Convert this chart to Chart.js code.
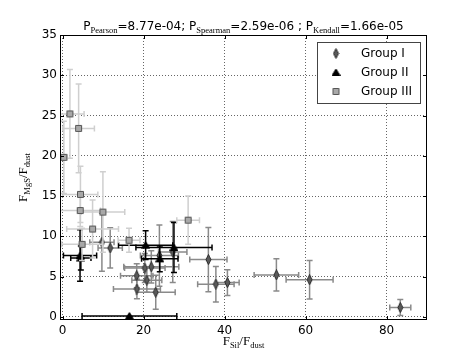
<!DOCTYPE html>
<html>
<head>
<meta charset="utf-8">
<script src="https://cdn.jsdelivr.net/npm/chart.js@4.4.0/dist/chart.umd.min.js"></script>
<style>
html, body { margin: 0; padding: 0; background: #fff; }
</style>
</head>
<body>
<canvas id="grafico" width="474" height="356"></canvas>
<script>
// valores
const grupoIx    = [9.7, 11.75, 18.3, 18.35, 20.3, 21.9, 20.8, 23.0, 23.9, 27.2, 36.0, 37.85, 40.7, 52.8, 61.0, 83.4];
const grupoIy    = [9.25, 8.55, 5.1, 3.45, 6.05, 6.2, 4.55, 3.05, 7.6, 8.05, 7.1, 4.05, 4.25, 5.2, 4.6, 1.15];
const grupoIxErr = [3.0, 3.0, 4.0, 5.8, 5.0, 6.8, 3.7, 4.8, 4.7, 3.5, 4.6, 4.5, 2.9, 5.5, 5.8, 2.6];
const grupoIyErr = [3.6, 2.5, 1.5, 1.2, 1.8, 2.0, 1.5, 2.1, 3.8, 3.8, 4.0, 2.2, 1.6, 2.0, 2.4, 1.0];

const grupoIIx    = [4.3, 4.5, 20.5, 27.5, 24.0, 16.5];
const grupoIIy    = [7.6, 7.3, 8.9, 8.6, 7.2, 0.1];
const grupoIIxErr = [4.1, 2.5, 6.7, 9.4, 4.5, 11.7];
const grupoIIyErr = [3.2, 1.5, 1.8, 3.1, 1.6, 0];

const grupoIIIx    = [0.3, 1.8, 3.95, 4.4, 4.35, 9.95, 7.4, 4.8, 16.4, 31.0];
const grupoIIIy    = [19.8, 25.2, 23.4, 15.2, 13.2, 13.0, 10.9, 9.0, 9.5, 12.0];
const grupoIIIxErr = [0.8, 3.5, 3.9, 4.3, 5.0, 5.4, 6.4, 5.0, 2.7, 2.8];
const grupoIIIyErr = [4.5, 5.5, 5.5, 3.5, 2.0, 5.0, 3.6, 2.0, 1.5, 3.0];

const legendas = ['Group I', 'Group II', 'Group III'];
const ticksX = [0, 20, 40, 60, 80];
const ticksY = [0, 5, 10, 15, 20, 25, 30, 35];

const SANS = 'DejaVu Sans';
const SERIF = 'Liberation Serif';

// marcadores desenhados num canvas pequeno
function marcador(tipo, fill, stroke) {
    const c = document.createElement('canvas');
    let w = 9, h = 9;
    if (tipo == 'diamante') { w = 7; h = 11; }
    c.width = w; c.height = h;
    const g = c.getContext('2d');
    g.beginPath();
    if (tipo == 'diamante') {
        g.moveTo(w / 2, 0.5); g.lineTo(w - 1, h / 2); g.lineTo(w / 2, h - 0.5); g.lineTo(1, h / 2);
    } else if (tipo == 'triangulo') {
        g.moveTo(w / 2, 1); g.lineTo(w - 0.5, h - 1.5); g.lineTo(0.5, h - 1.5);
    } else {
        g.rect(1.5, 1.5, w - 3, h - 3);
    }
    g.closePath();
    g.fillStyle = fill; g.fill();
    g.lineWidth = 1; g.strokeStyle = stroke; g.stroke();
    return c;
}

const imgDiamante = marcador('diamante', '#5a5a5a', '#2a2a2a');
const imgTriangulo = marcador('triangulo', '#000', '#000');
const imgQuadrado = marcador('quadrado', '#a8a8a8', '#555');

function pontos(xs, ys) {
    return xs.map((v, i) => ({ x: v, y: ys[i] }));
}

// texto com subscritos
function textoRico(ctx, partes, x, y, align) {
    let total = 0;
    partes.forEach(p => { ctx.font = p.f; p.w = ctx.measureText(p.t).width; total += p.w; });
    let cx = align == 'center' ? x - total / 2 : x;
    ctx.textBaseline = 'alphabetic';
    ctx.textAlign = 'left';
    partes.forEach(p => {
        ctx.font = p.f;
        ctx.fillText(p.t, cx, y + (p.dy || 0));
        cx += p.w;
    });
}

const sub = (t) => ({ t: t, f: '8.5px "' + SERIF + '"', dy: 3 });
const normal = (t) => ({ t: t, f: '12px "' + SANS + '"' });
const serif = (t) => ({ t: t, f: '13px "' + SERIF + '"' });

const tituloPartes = [normal('P'), sub('Pearson'), normal('=8.77e-04; P'), sub('Spearman'),
    normal('=2.59e-06 ; P'), sub('Kendall'), normal('=1.66e-05')];
const labelX = [serif('F'), sub('Sil'), serif('/F'), sub('dust')];
const labelY = [serif('F'), sub('MgS'), serif('/F'), sub('dust')];

const enfeites = {
    id: 'enfeites',
    beforeDraw(chart) {
        const ctx = chart.ctx;
        ctx.save();
        ctx.fillStyle = '#fff';
        ctx.fillRect(0, 0, chart.width, chart.height);
        ctx.restore();
    },
    beforeDatasetDraw(chart, args) {
        const ds = chart.data.datasets[args.index];
        const sx = chart.scales.x, sy = chart.scales.y;
        const ctx = chart.ctx;
        const cap = 3;
        ctx.save();
        ctx.beginPath();
        ctx.rect(chart.chartArea.left, chart.chartArea.top, chart.chartArea.right - chart.chartArea.left, chart.chartArea.bottom - chart.chartArea.top);
        ctx.clip();
        ctx.strokeStyle = ds.corErro;
        ctx.lineWidth = 1.5;
        ds.data.forEach((p, i) => {
            const px = sx.getPixelForValue(p.x), py = sy.getPixelForValue(p.y);
            const ex = ds.erroX[i], ey = ds.erroY[i];
            ctx.beginPath();
            if (ex > 0) {
                const x1 = sx.getPixelForValue(p.x - ex), x2 = sx.getPixelForValue(p.x + ex);
                ctx.moveTo(x1, py); ctx.lineTo(x2, py);
                ctx.moveTo(x1, py - cap); ctx.lineTo(x1, py + cap);
                ctx.moveTo(x2, py - cap); ctx.lineTo(x2, py + cap);
            }
            if (ey > 0) {
                const y1 = sy.getPixelForValue(p.y - ey), y2 = sy.getPixelForValue(p.y + ey);
                ctx.moveTo(px, y1); ctx.lineTo(px, y2);
                ctx.moveTo(px - cap, y1); ctx.lineTo(px + cap, y1);
                ctx.moveTo(px - cap, y2); ctx.lineTo(px + cap, y2);
            }
            ctx.stroke();
        });
        ctx.restore();
    },
    afterDraw(chart) {
        const ctx = chart.ctx;
        const a = chart.chartArea;
        const sx = chart.scales.x, sy = chart.scales.y;
        ctx.save();
        // moldura
        ctx.strokeStyle = '#000';
        ctx.lineWidth = 1;
        ctx.strokeRect(a.left + 0.5, a.top + 0.5, a.right - a.left - 1, a.bottom - a.top - 1);
        // ticks para dentro
        ctx.beginPath();
        ticksX.forEach(v => {
            const x = Math.round(sx.getPixelForValue(v)) + 0.5;
            ctx.moveTo(x, a.bottom); ctx.lineTo(x, a.bottom - 4);
            ctx.moveTo(x, a.top); ctx.lineTo(x, a.top + 4);
        });
        ticksY.forEach(v => {
            const y = Math.round(sy.getPixelForValue(v)) + 0.5;
            ctx.moveTo(a.left, y); ctx.lineTo(a.left + 4, y);
            ctx.moveTo(a.right, y); ctx.lineTo(a.right - 4, y);
        });
        ctx.stroke();

        ctx.fillStyle = '#000';
        textoRico(ctx, tituloPartes, (a.left + a.right) / 2, 30, 'center');
        textoRico(ctx, labelX, (a.left + a.right) / 2, 345, 'center');
        ctx.save();
        ctx.translate(27, (a.top + a.bottom) / 2);
        ctx.rotate(-Math.PI / 2);
        textoRico(ctx, labelY, 0, 0, 'center');
        ctx.restore();

        // legenda
        const lx = 317, ly = 42, lw = 103, lh = 61;
        ctx.fillStyle = '#fff';
        ctx.fillRect(lx, ly, lw, lh);
        ctx.strokeStyle = '#444';
        ctx.lineWidth = 1;
        ctx.strokeRect(lx + 0.5, ly + 0.5, lw, lh);
        const imgs = [imgDiamante, imgTriangulo, imgQuadrado];
        ctx.fillStyle = '#000';
        ctx.font = '12px "' + SANS + '"';
        ctx.textBaseline = 'middle';
        ctx.textAlign = 'left';
        legendas.forEach((t, i) => {
            const cy = 53.5 + i * 19;
            const im = imgs[i];
            ctx.drawImage(im, 336 - im.width / 2, cy - im.height / 2);
            ctx.fillText(t, 361, cy);
        });
        ctx.restore();
    }
};

const grade = {
    color: 'rgba(0,0,0,0.6)',
    lineWidth: 1,
    drawTicks: false
};
const borda = { display: false, dash: [1, 2] };

const data = {
    datasets: [{
        label: legendas[0],
        data: pontos(grupoIx, grupoIy),
        erroX: grupoIxErr,
        erroY: grupoIyErr,
        corErro: '#8a8a8a',
        pointStyle: imgDiamante,
        order: 3
    }, {
        label: legendas[1],
        data: pontos(grupoIIx, grupoIIy),
        erroX: grupoIIxErr,
        erroY: grupoIIyErr,
        corErro: '#000',
        pointStyle: imgTriangulo,
        order: 2
    }, {
        label: legendas[2],
        data: pontos(grupoIIIx, grupoIIIy),
        erroX: grupoIIIxErr,
        erroY: grupoIIIyErr,
        corErro: '#cfcfcf',
        pointStyle: imgQuadrado,
        order: 1
    }]
};

const config = {
    type: 'scatter',
    data: data,
    options: {
        responsive: false,
        animation: false,
        devicePixelRatio: 1,
        layout: { padding: { left: 0, right: 47, top: 35, bottom: 0 } },
        plugins: {
            legend: { display: false },
            title: { display: false },
            tooltip: { enabled: false }
        },
        scales: {
            x: {
                type: 'linear',
                min: -0.65,
                max: 90,
                afterFit: (s) => { s.height = 36; },
                afterBuildTicks: (s) => { s.ticks = ticksX.map(v => ({ value: v })); },
                ticks: { font: { family: SANS, size: 12 }, color: '#000', padding: 4, maxRotation: 0 },
                grid: grade,
                border: borda
            },
            y: {
                type: 'linear',
                min: -0.4,
                max: 35,
                afterFit: (s) => { s.width = 60; },
                afterBuildTicks: (s) => { s.ticks = ticksY.map(v => ({ value: v })); },
                ticks: { font: { family: SANS, size: 12 }, color: '#000', padding: 3 },
                grid: grade,
                border: borda
            }
        }
    },
    plugins: [enfeites]
};

grafico = new Chart(document.getElementById('grafico'), config);
</script>
</body>
</html>
